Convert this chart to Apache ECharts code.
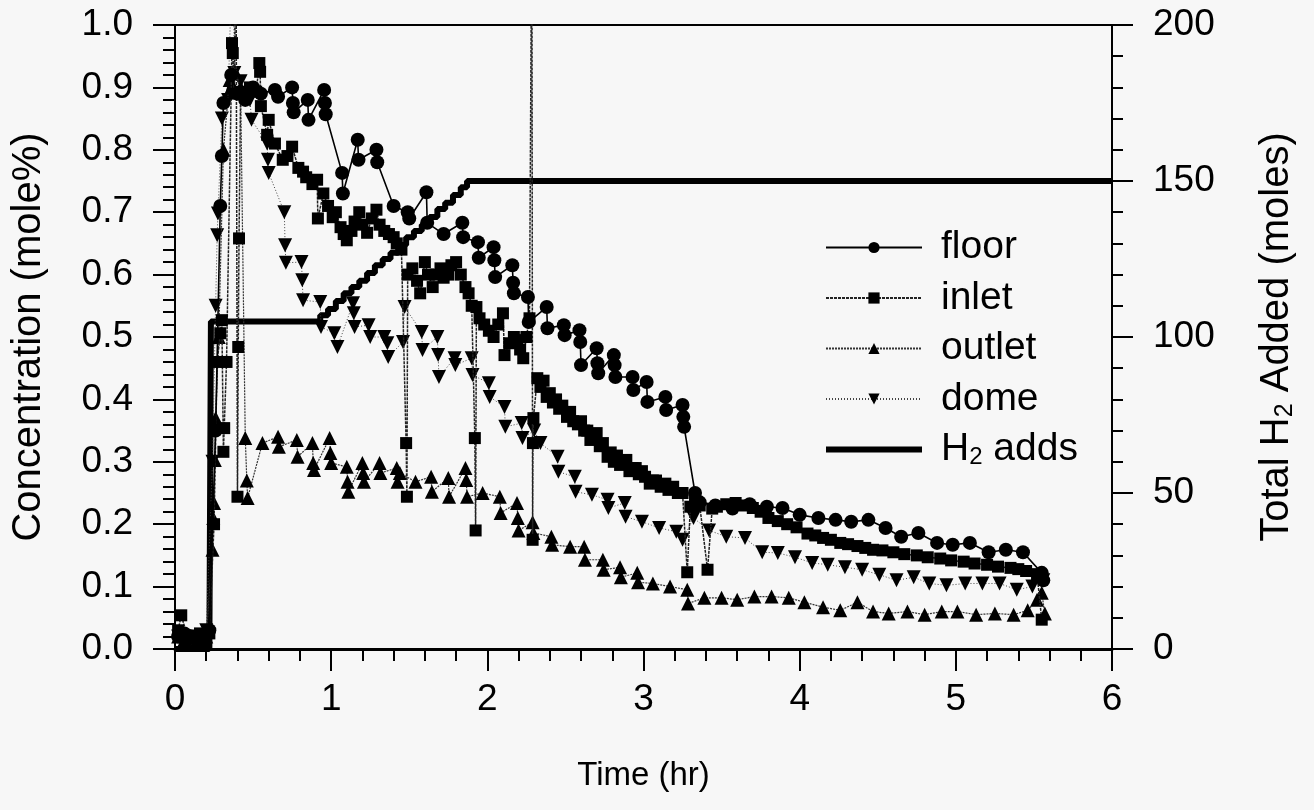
<!DOCTYPE html>
<html>
<head>
<meta charset="utf-8">
<script src="https://cdn.jsdelivr.net/npm/echarts@6/dist/echarts.min.js"></script>
<style>
html,body{margin:0;padding:0;background:#f7f7f7;}
#c{width:1314px;height:810px;}
</style>
</head>
<body>
<div id="c"></div>
<script>
// ---- data (time in hr, concentration in mole%) ----
const floorData = [[0.02,0.02],[0.06,0.025],[0.10,0.02],[0.14,0.02],[0.18,0.015],[0.22,0.03],
[0.26,0.35],[0.29,0.71],[0.30,0.79],[0.31,0.875],[0.36,0.92],[0.40,0.89],[0.45,0.88],[0.50,0.90],[0.55,0.89],
[0.64,0.896],[0.66,0.885],[0.75,0.90],[0.755,0.875],[0.76,0.86],[0.85,0.88],[0.855,0.848],[0.955,0.896],[0.96,0.875],[0.965,0.857],
[1.07,0.763],[1.075,0.73],[1.17,0.816],[1.175,0.784],[1.29,0.80],[1.295,0.78],[1.40,0.71],[1.49,0.70],[1.50,0.69],
[1.61,0.732],[1.615,0.683],[1.72,0.665],[1.84,0.683],[1.845,0.66],[1.94,0.652],[1.945,0.627],[2.04,0.644],[2.045,0.623],[2.05,0.596],
[2.16,0.615],[2.165,0.587],[2.17,0.57],[2.26,0.564],[2.265,0.524],[2.38,0.548],[2.385,0.514],[2.49,0.519],[2.495,0.503],
[2.59,0.511],[2.595,0.492],[2.60,0.455],[2.70,0.482],[2.705,0.458],[2.71,0.442],[2.81,0.471],[2.815,0.455],[2.82,0.436],
[2.93,0.436],[2.935,0.415],[3.02,0.428],[3.025,0.396],[3.14,0.404],[3.145,0.383],[3.25,0.391],[3.255,0.372],[3.26,0.356],
[3.33,0.25],[3.36,0.235],[3.46,0.23],[3.57,0.225],[3.68,0.232],[3.79,0.228],[3.89,0.226],[4.00,0.215],[4.12,0.21],[4.23,0.207],
[4.33,0.204],[4.44,0.207],[4.55,0.194],[4.65,0.18],[4.76,0.186],[4.88,0.17],[4.98,0.167],[5.09,0.17],[5.21,0.155],[5.32,0.159],
[5.43,0.155],[5.55,0.122],[5.56,0.11]];

const inletData = [[0.02,0.03],[0.04,0.054],[0.08,0.02],[0.12,0.02],[0.16,0.025],[0.22,0.025],[0.25,0.2],[0.27,0.46],[0.29,0.506],
[0.30,0.527],[0.31,0.316],[0.315,0.354],[0.33,0.46],[0.365,0.971],[0.37,0.955],[0.38,0.89],[0.39,1.2],[0.40,0.244],[0.405,0.484],
[0.41,0.658],[0.42,0.893],[0.48,0.90],[0.52,0.893],[0.54,0.939],[0.545,0.925],[0.55,0.87],[0.59,0.824],[0.60,0.848],[0.64,0.81],
[0.69,0.784],[0.72,0.79],[0.75,0.805],[0.79,0.771],[0.82,0.765],[0.84,0.756],[0.88,0.745],[0.91,0.752],[0.915,0.69],[0.95,0.73],
[0.98,0.71],[1.01,0.692],[1.03,0.70],[1.06,0.676],[1.08,0.665],[1.10,0.655],[1.13,0.67],[1.15,0.685],[1.18,0.70],[1.20,0.68],
[1.23,0.667],[1.26,0.69],[1.29,0.704],[1.31,0.68],[1.34,0.67],[1.37,0.665],[1.40,0.66],[1.42,0.65],[1.45,0.64],[1.48,0.33],
[1.485,0.244],[1.49,0.60],[1.52,0.61],[1.55,0.59],[1.57,0.57],[1.60,0.62],[1.62,0.60],[1.65,0.58],[1.67,0.6],[1.70,0.61],
[1.72,0.595],[1.75,0.60],[1.77,0.615],[1.80,0.62],[1.83,0.60],[1.86,0.58],[1.88,0.57],[1.90,0.55],[1.92,0.338],[1.925,0.19],
[1.93,0.548],[1.95,0.53],[1.98,0.52],[2.01,0.51],[2.04,0.50],[2.07,0.52],[2.10,0.538],[2.11,0.471],[2.14,0.49],[2.17,0.50],
[2.19,0.495],[2.21,0.48],[2.23,0.466],[2.25,0.50],[2.27,0.53],[2.285,1.2],[2.29,0.175],[2.292,0.33],[2.295,0.37],
[2.32,0.434],[2.34,0.42],[2.36,0.43],[2.38,0.404],[2.40,0.41],[2.42,0.395],[2.44,0.40],[2.46,0.385],[2.48,0.39],[2.51,0.372],
[2.53,0.38],[2.55,0.365],[2.58,0.36],[2.60,0.365],[2.62,0.35],[2.64,0.35],[2.66,0.335],[2.68,0.34],[2.70,0.346],[2.72,0.325],
[2.74,0.33],[2.77,0.308],[2.79,0.315],[2.81,0.30],[2.83,0.31],[2.85,0.295],[2.87,0.30],[2.89,0.303],[2.91,0.285],[2.93,0.29],
[2.95,0.29],[2.97,0.28],[2.99,0.285],[3.01,0.276],[3.04,0.265],[3.06,0.27],[3.08,0.27],[3.11,0.26],[3.14,0.265],[3.16,0.255],
[3.19,0.26],[3.22,0.25],[3.25,0.25],[3.28,0.123],[3.30,0.228],[3.33,0.235],[3.36,0.23],[3.41,0.127],[3.44,0.225],
[3.47,0.228],[3.53,0.232],[3.59,0.234],[3.65,0.23],[3.70,0.226],[3.75,0.22],[3.80,0.21],[3.86,0.205],[3.92,0.20],[3.98,0.195],
[4.05,0.185],[4.10,0.182],[4.15,0.178],[4.20,0.175],[4.26,0.17],[4.31,0.168],[4.37,0.165],[4.42,0.162],[4.47,0.159],[4.53,0.158],
[4.60,0.155],[4.67,0.152],[4.75,0.15],[4.82,0.147],[4.90,0.145],[4.97,0.142],[5.05,0.14],[5.12,0.137],[5.20,0.135],[5.27,0.132],
[5.35,0.13],[5.40,0.128],[5.45,0.125],[5.52,0.12],[5.55,0.047]];

const outletData = [[0.02,0.02],[0.06,0.015],[0.10,0.02],[0.14,0.015],[0.18,0.01],[0.20,0.02],[0.24,0.159],[0.245,0.21],[0.25,0.234],
[0.255,0.303],[0.26,0.37],[0.28,0.5],[0.31,0.8],[0.35,0.912],[0.36,0.90],[0.38,0.928],[0.42,0.90],[0.45,0.338],[0.46,0.27],[0.465,0.242],
[0.56,0.33],[0.66,0.34],[0.665,0.324],[0.78,0.335],[0.785,0.308],[0.88,0.33],[0.885,0.298],[0.89,0.287],[0.99,0.338],[0.995,0.314],
[1.00,0.298],[1.10,0.292],[1.105,0.268],[1.11,0.252],[1.20,0.298],[1.205,0.282],[1.21,0.268],[1.31,0.298],[1.315,0.282],[1.42,0.29],
[1.425,0.268],[1.44,0.282],[1.54,0.268],[1.64,0.276],[1.645,0.252],[1.75,0.274],[1.755,0.244],[1.86,0.29],[1.865,0.271],[1.87,0.244],
[1.97,0.25],[2.08,0.244],[2.085,0.218],[2.19,0.234],[2.195,0.21],[2.20,0.19],[2.29,0.203],[2.295,0.186],[2.41,0.18],[2.415,0.167],
[2.53,0.164],[2.62,0.164],[2.625,0.143],[2.74,0.143],[2.745,0.127],[2.85,0.131],[2.855,0.115],[2.96,0.122],[2.965,0.107],[3.06,0.105],
[3.17,0.10],[3.28,0.095],[3.285,0.073],[3.39,0.082],[3.50,0.082],[3.60,0.079],[3.71,0.084],[3.82,0.084],[3.93,0.082],[4.03,0.075],
[4.15,0.067],[4.26,0.062],[4.37,0.075],[4.47,0.06],[4.57,0.057],[4.69,0.06],[4.80,0.055],[4.91,0.06],[5.01,0.06],[5.13,0.055],
[5.25,0.057],[5.37,0.055],[5.46,0.062],[5.52,0.079],[5.55,0.09],[5.57,0.057]];

const domeData = [[0.02,0.02],[0.06,0.02],[0.10,0.015],[0.14,0.02],[0.18,0.01],[0.20,0.03],[0.24,0.30],[0.26,0.55],[0.27,0.663],
[0.275,0.698],[0.30,0.85],[0.34,0.88],[0.37,1.15],[0.38,0.923],[0.42,0.91],[0.48,0.88],[0.49,0.848],[0.59,0.81],[0.595,0.784],
[0.60,0.763],[0.70,0.70],[0.705,0.647],[0.71,0.619],[0.81,0.62],[0.815,0.591],[0.82,0.559],[0.93,0.556],[0.935,0.516],[1.02,0.506],
[1.04,0.484],[1.14,0.554],[1.145,0.538],[1.15,0.516],[1.24,0.519],[1.25,0.50],[1.34,0.50],[1.36,0.49],[1.365,0.468],[1.46,0.492],
[1.47,0.548],[1.58,0.508],[1.585,0.479],[1.68,0.50],[1.685,0.471],[1.69,0.436],[1.79,0.466],[1.795,0.455],[1.90,0.466],[1.905,0.439],
[2.01,0.426],[2.015,0.404],[2.11,0.388],[2.115,0.356],[2.22,0.362],[2.225,0.338],[2.30,0.35],[2.34,0.33],[2.45,0.308],[2.455,0.284],
[2.56,0.276],[2.565,0.252],[2.67,0.247],[2.77,0.239],[2.775,0.226],[2.88,0.234],[2.885,0.212],[2.99,0.204],[3.10,0.194],[3.21,0.188],
[3.25,0.175],[3.32,0.21],[3.42,0.19],[3.53,0.18],[3.65,0.178],[3.76,0.155],[3.86,0.154],[3.97,0.147],[4.08,0.138],[4.18,0.135],
[4.29,0.131],[4.40,0.127],[4.51,0.119],[4.62,0.11],[4.73,0.115],[4.83,0.105],[4.94,0.102],[5.06,0.105],[5.17,0.105],[5.28,0.105],
[5.39,0.095],[5.49,0.10],[5.56,0.11]];

// total H2 added (moles), right axis
const h2Data = [[0,0],[0.22,0],[0.23,105],[0.88,105],[0.93,107],[0.98,109],[1.03,111.5],[1.08,114],[1.13,116],[1.18,118],
[1.23,120.5],[1.28,123],[1.33,125],[1.38,127],[1.43,129.5],[1.48,132],[1.53,134],[1.58,136],[1.63,138.5],[1.68,141],
[1.73,143],[1.78,145.5],[1.83,148],[1.87,150],[6,150]];

const xTicks = [0,1,2,3,4,5,6];
const FONT = '"Liberation Sans", Arial, Helvetica, sans-serif';
const black = '#000';
const richSub = (fs, lh, sfs, slh) => ({
  t:{fontFamily:FONT,fontSize:fs,lineHeight:lh,color:black},
  s:{fontFamily:FONT,fontSize:sfs,lineHeight:slh,verticalAlign:'bottom',color:black}
});

const chart = echarts.init(document.getElementById('c'), null, {renderer:'canvas'});
const option = {
  backgroundColor: '#f7f7f7',
  animation: false,
  textStyle: {fontFamily: FONT, color: black},
  grid: {left:175, right:202, top:25, bottom:161, show:true, borderColor:black, borderWidth:2, backgroundColor:'transparent'},
  legend: {
    orient:'vertical', left:818, top:223, itemWidth:96, itemHeight:14, itemGap:11.5,
    textStyle:{fontFamily:FONT, fontSize:39, color:black, padding:[0,0,0,14], rich:richSub(39,40,24,16)},
    formatter: n => n === 'H2 adds' ? '{t|H}{s|2}{t| adds}' : '{t|' + n + '}',
    data:['floor','inlet','outlet','dome',
      {name:'H2 adds', itemStyle:{opacity:0}, lineStyle:{color:black, width:6, type:'solid', opacity:1}}]
  },
  xAxis: {
    type:'value', min:0, max:6, interval:1,
    name:'Time (hr)', nameLocation:'middle', nameGap:110,
    nameTextStyle:{fontFamily:FONT, fontSize:33, color:black},
    axisLine:{show:true, onZero:false, lineStyle:{color:black, width:3}},
    axisTick:{show:true, inside:false, length:22, lineStyle:{color:black, width:2}},
    minorTick:{show:true, splitNumber:5, length:12, lineStyle:{color:black, width:2}},
    splitLine:{show:false},
    axisLabel:{fontFamily:FONT, fontSize:37, color:black, margin:32,
      formatter: v => xTicks.includes(v) ? String(v) : ''}
  },
  yAxis: [{
    type:'value', min:0, max:1, interval:0.1, position:'left',
    name:'Concentration (mole%)', nameLocation:'middle', nameGap:126, nameRotate:90,
    nameTextStyle:{fontFamily:FONT, fontSize:40, color:black},
    axisLine:{show:true, onZero:false, lineStyle:{color:black, width:2}},
    axisTick:{show:true, inside:false, length:22, lineStyle:{color:black, width:2}},
    minorTick:{show:true, splitNumber:5, length:12, lineStyle:{color:black, width:2}},
    splitLine:{show:false},
    axisLabel:{fontFamily:FONT, fontSize:37, color:black, margin:42, formatter: v => v.toFixed(1)}
  },{
    type:'value', min:0, max:200, interval:50, position:'right',
    name:'{t|Total H}{s|2}{t| Added (moles)}', nameLocation:'middle', nameGap:144, nameRotate:90,
    nameTextStyle:{fontFamily:FONT, fontSize:40, color:black, rich:richSub(40,42,25,16)},
    axisLine:{show:true, onZero:false, lineStyle:{color:black, width:2}},
    axisTick:{show:true, inside:false, length:21, lineStyle:{color:black, width:2}},
    minorTick:{show:true, splitNumber:5, length:11, lineStyle:{color:black, width:2}},
    splitLine:{show:false},
    axisLabel:{fontFamily:FONT, fontSize:37, color:black, margin:41}
  }],
  series: [
    {name:'H2 adds', type:'line', yAxisIndex:1, data:h2Data, step:'end', symbol:'none', showSymbol:false, z:1,
      lineStyle:{color:black, width:6}, itemStyle:{color:black}},
    {name:'floor', type:'line', data:floorData, symbol:'circle', symbolSize:14, z:5,
      lineStyle:{color:black, width:1.6}, itemStyle:{color:black}},
    {name:'inlet', type:'line', data:inletData, symbol:'rect', symbolSize:12, z:4,
      lineStyle:{color:'#222', width:1.5, type:[3,1]}, itemStyle:{color:black}},
    {name:'outlet', type:'line', data:outletData, symbol:'triangle', symbolSize:14, z:3,
      lineStyle:{color:'#333', width:1.2, type:[2,1]}, itemStyle:{color:black}},
    {name:'dome', type:'line', data:domeData, symbol:'triangle', symbolRotate:180, symbolSize:14, z:2,
      lineStyle:{color:'#444', width:1, type:[1,2]}, itemStyle:{color:black}}
  ]
};
chart.setOption(option);
</script>
</body>
</html>
